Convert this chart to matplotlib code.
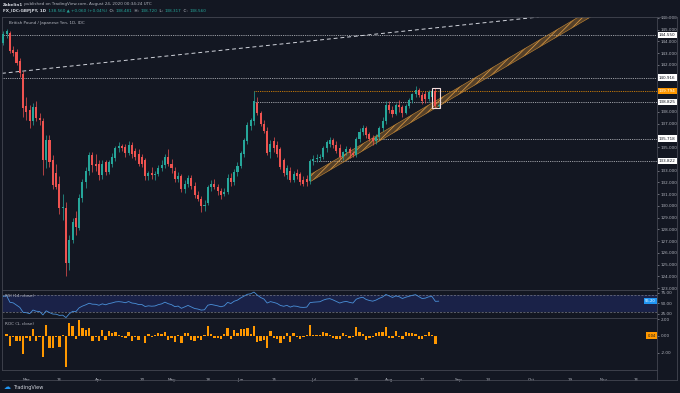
import numpy as np
import pandas as pd
import matplotlib
matplotlib.use("Agg")
import matplotlib.pyplot as plt
from matplotlib.patches import Rectangle
from matplotlib.lines import Line2D
from matplotlib.transforms import blended_transform_factory

# GBP/JPY daily candles, 20 Feb 2020 .. 24 Aug 2020
first_day = "2020-02-20"
opens = [143.9, 144.6, 144.7, 143.3, 143.1, 142.3, 141.2, 138.5, 138.2, 137.2,
         138.4, 137.5, 137.2, 133.9, 135.6, 133.9, 132.8, 131.9, 129.8, 129.8,
         125.1, 127.1, 129.0, 128.1, 130.7, 132.0, 133.0, 134.3, 133.6, 133.6,
         132.6, 133.7, 132.9, 133.6, 134.1, 134.9, 135.1, 135.0, 134.5, 135.2,
         134.7, 134.4, 134.2, 133.9, 132.5, 132.8, 132.6, 132.7, 133.2, 133.5,
         134.2, 133.6, 133.0, 132.3, 132.5, 131.4, 131.9, 132.4, 131.7, 130.9,
         130.6, 130.0, 130.2, 131.6, 131.9, 131.6, 131.3, 131.0, 131.2, 132.4,
         132.0, 132.9, 133.4, 134.4, 135.5, 136.8, 137.2, 138.8, 137.9, 137.0,
         136.4, 134.6, 135.5, 135.2, 134.8, 133.9, 132.6, 133.0, 132.2, 132.8,
         132.7, 132.2, 132.3, 132.1, 133.8, 134.0, 134.1, 134.2, 134.9, 135.3,
         135.6, 135.2, 134.9, 134.2, 134.6, 134.8, 134.5, 134.3, 135.7, 136.3,
         136.6, 136.1, 135.8, 135.5, 135.9, 136.6, 137.2, 138.6, 138.2, 137.8,
         138.6, 138.4, 137.9, 138.5, 139.0, 139.5, 139.9, 139.4, 139.5, 139.1,
         139.3, 139.8, 138.481]
highs = [144.9, 145.1, 144.9, 143.6, 143.4, 142.6, 141.5, 139.3, 138.6, 138.8,
         138.9, 137.9, 137.5, 136.0, 136.0, 134.3, 133.6, 132.5, 131.0, 130.3,
         127.5, 129.0, 129.6, 131.0, 132.3, 133.3, 134.6, 134.6, 134.4, 133.9,
         133.9, 133.9, 133.9, 134.5, 135.1, 135.4, 135.3, 135.3, 135.5, 135.4,
         134.9, 134.8, 134.4, 134.1, 133.0, 133.3, 133.0, 133.5, 133.9, 134.4,
         134.8, 134.0, 133.3, 132.9, 132.7, 132.2, 132.6, 132.6, 132.0, 131.3,
         130.8, 130.5, 131.8, 132.2, 132.3, 131.9, 131.5, 131.5, 132.7, 132.8,
         133.1, 133.7, 134.7, 135.8, 137.1, 137.5, 139.794, 139.3, 138.1, 137.3,
         136.7, 135.6, 135.9, 135.5, 135.0, 134.1, 133.5, 133.3, 133.0, 133.1,
         132.9, 132.5, 132.6, 134.0, 134.3, 134.4, 134.4, 135.1, 135.6, 135.9,
         135.8, 135.5, 135.3, 134.7, 135.1, 135.0, 134.7, 135.9, 136.6, 136.9,
         136.8, 136.3, 136.0, 136.1, 136.8, 137.6, 138.9, 138.9, 138.5, 138.8,
         139.0, 138.6, 138.7, 139.2, 139.6, 140.2, 140.0, 139.7, 139.8, 139.9,
         140.0, 140.0, 138.720]
lows = [143.7, 144.3, 143.0, 142.8, 142.0, 141.0, 137.6, 137.3, 136.6, 136.9,
        137.2, 136.9, 132.6, 133.2, 133.3, 131.4, 131.4, 129.3, 128.8, 124.0,
        124.5, 126.8, 127.5, 127.9, 130.3, 131.5, 132.6, 132.9, 133.0, 132.2,
        132.3, 132.6, 132.7, 133.3, 133.8, 134.6, 134.7, 134.2, 134.3, 134.1,
        133.9, 133.4, 133.3, 132.2, 132.2, 132.3, 132.2, 132.5, 133.0, 133.2,
        133.4, 132.8, 132.0, 132.0, 131.2, 131.1, 131.6, 131.4, 130.7, 130.4,
        129.5, 129.6, 130.1, 131.3, 131.4, 130.9, 130.6, 130.8, 131.0, 131.7,
        131.8, 132.5, 133.2, 134.2, 135.3, 136.5, 136.9, 137.7, 136.8, 136.2,
        134.3, 134.1, 134.6, 134.2, 133.1, 132.5, 132.3, 132.0, 132.0, 132.3,
        131.8, 131.7, 131.7, 131.9, 133.5, 133.7, 133.8, 134.0, 134.6, 135.0,
        134.9, 134.5, 134.0, 133.9, 134.3, 134.1, 134.2, 134.2, 135.4, 136.0,
        135.8, 135.5, 135.2, 135.3, 135.7, 136.4, 137.0, 137.9, 137.6, 137.7,
        138.0, 137.6, 137.8, 138.3, 138.8, 139.3, 139.3, 138.7, 138.8, 138.9,
        139.0, 138.3, 138.317]
closes = [144.6, 144.9, 143.2, 143.0, 142.2, 141.3, 138.3, 138.0, 137.2, 138.4,
          137.5, 137.3, 133.9, 135.6, 133.7, 131.8, 131.6, 129.8, 129.9, 125.1,
          127.1, 128.6, 128.2, 130.7, 132.0, 133.0, 134.3, 133.5, 133.4, 132.6,
          133.6, 132.9, 133.7, 134.2, 134.9, 135.1, 134.9, 134.5, 135.2, 134.4,
          134.2, 133.6, 133.6, 132.5, 132.8, 132.6, 132.7, 133.2, 133.5, 134.2,
          133.6, 133.2, 132.3, 132.5, 131.4, 131.9, 132.4, 131.7, 130.9, 130.6,
          130.0, 130.1, 131.6, 131.9, 131.6, 131.3, 130.9, 131.2, 132.4, 132.0,
          132.9, 133.4, 134.5, 135.6, 136.9, 137.3, 138.9, 137.9, 137.0, 136.4,
          134.5, 135.3, 134.9, 134.4, 133.3, 132.8, 133.2, 132.2, 132.7, 132.5,
          132.0, 131.9, 132.0, 133.8, 134.0, 134.1, 134.2, 134.9, 135.4, 135.6,
          135.2, 134.7, 134.2, 134.6, 134.8, 134.5, 134.3, 135.7, 136.3, 136.6,
          136.0, 135.7, 135.5, 135.9, 136.6, 137.2, 138.6, 138.2, 137.8, 138.6,
          138.4, 137.9, 138.5, 139.0, 139.5, 139.9, 139.4, 138.9, 139.1, 139.7,
          139.8, 138.50, 138.560]

# drawn levels / lines
level_prices = [144.550, 140.916, 139.794, 138.825, 135.718, 133.822]
level_from = [-1, -1, 76, 76, 112, 94]   # bar where each level starts, -1 = left edge
level_orange = [False, False, True, False, False, False]
trend_bars = [0, 150]
trend_prices = [141.3, 145.72]
channel_bars = [93, 131]
channel_low = [132.05, 138.32]
channel_width = 0.6
box_bars = [130.0, 132.3]
box_prices = [138.33, 140.04]

tick_days = ["2020-03-02", "2020-03-16", "2020-04-01", "2020-04-20", "2020-05-01",
             "2020-05-18", "2020-06-01", "2020-06-15", "2020-07-01", "2020-07-20",
             "2020-08-03", "2020-08-17", "2020-09-01", "2020-09-14", "2020-10-01",
             "2020-10-19", "2020-11-02", "2020-11-16"]
tick_names = ["Mar", "16", "Apr", "20", "May", "18", "Jun", "15", "Jul", "20",
              "Aug", "17", "Sep", "14", "Oct", "19", "Nov", "16"]

BG = "#131722"
UP = "#26a69a"
DOWN = "#ef5350"
TXT = "#b2b5be"
LINE = "#434651"
FS = 3.0
plt.rcParams["hatch.linewidth"] = 0.6

o = np.array(opens); h = np.array(highs); l = np.array(lows); c = np.array(closes)
n = len(c)
xs = np.arange(n)
days = pd.bdate_range(first_day, periods=220)

W, H = 680, 393
fig = plt.figure(figsize=(6.8, 3.93), dpi=100, facecolor=BG)


def box(x0, y0, x1, y1):
    return [x0 / W, 1 - y1 / H, (x1 - x0) / W, (y1 - y0) / H]


ax = fig.add_axes(box(2, 17, 657, 290))
ax_rsi = fig.add_axes(box(2, 290, 657, 318), sharex=ax)
ax_roc = fig.add_axes(box(2, 318, 657, 370), sharex=ax)

for a in (ax, ax_rsi, ax_roc):
    a.set_facecolor(BG)
    for s in a.spines.values():
        s.set_color(LINE)
        s.set_linewidth(0.6)
    a.yaxis.tick_right()
    a.tick_params(axis="y", colors=TXT, labelsize=FS, length=1.5, width=0.4, pad=1)
    a.tick_params(axis="x", bottom=False, labelbottom=False)

ax.set_xlim(-0.4, 198.2)
ax.set_ylim(122.83, 146.085)

# candles
col = np.where(c >= o, UP, DOWN)
ax.vlines(xs, l, h, colors=col, lw=0.5, zorder=3)
ax.bar(xs, np.maximum(np.abs(c - o), 0.03), bottom=np.minimum(o, c), width=0.62,
       color=col, linewidth=0, zorder=4)

# horizontal levels
lx0 = ax.get_xlim()[0]
for p, st, orng in zip(level_prices, level_from, level_orange):
    x0 = lx0 if st < 0 else st
    ax.plot([x0, 198.2], [p, p], color="#ff9800" if orng else "#c9cbd1",
            lw=0.6, ls=(0, (1, 1.2)), zorder=2)

# long dashed trendline
ax.axline((trend_bars[0], trend_prices[0]), (trend_bars[1], trend_prices[1]),
          color="#d1d4dc", lw=0.7, ls=(0, (4, 3)), zorder=2)

# rising channel
slope = (channel_low[1] - channel_low[0]) / (channel_bars[1] - channel_bars[0])
cx = np.array([channel_bars[0], 200.0])
clo = channel_low[0] + slope * (cx - channel_bars[0])
ax.fill_between(cx, clo, clo + channel_width, facecolor="#d08e38", alpha=0.35,
                lw=0, zorder=2)
ax.fill_between(cx, clo, clo + channel_width, facecolor="none", edgecolor="#d39340",
                hatch="/////", lw=0, zorder=2)
ax.plot(cx, clo, color="#b98032", lw=0.45, zorder=2)
ax.plot(cx, clo + channel_width, color="#b98032", lw=0.45, zorder=2)

# highlight box
ax.add_patch(Rectangle((box_bars[0], box_prices[0]), box_bars[1] - box_bars[0],
                       box_prices[1] - box_prices[0], fill=False, ec="#f3dede",
                       lw=0.8, zorder=5))

# price scale
ticks = [t for t in range(123, 147) if min(abs(t - p) for p in level_prices) > 0.4]
ax.set_yticks(ticks)
ax.set_yticklabels([f"{t:.3f}" for t in ticks])
tr = blended_transform_factory(ax.transAxes, ax.transData)
for p, orng in zip(level_prices, level_orange):
    ax.text(1.003, p, f"{p:.3f}", transform=tr, fontsize=FS, ha="left", va="center",
            color="white" if orng else "#131722", clip_on=False,
            bbox=dict(boxstyle="square,pad=0.3", fc="#ff9800" if orng else "white", ec="none"))

ax.text(0.01, 1 - 6 / 273, "British Pound / Japanese Yen, 1D, IDC", transform=ax.transAxes,
        fontsize=FS, color=TXT, va="center")


# RSI
def wilder_rsi(close, length, seed_gain=0.3, seed_loss=0.15):
    ag, al = seed_gain, seed_loss
    out = [100 - 100 / (1 + ag / al)]
    for d in np.diff(close):
        ag = (ag * (length - 1) + max(d, 0)) / length
        al = (al * (length - 1) + max(-d, 0)) / length
        out.append(100 - 100 / (1 + ag / al))
    return np.array(out)


rsi = wilder_rsi(c, 14)
ax_rsi.set_ylim(14.9, 82)
ax_rsi.axhspan(30, 70, color="#1a2248", lw=0)
for lv in (70, 30):
    ax_rsi.axhline(lv, color="#787b86", lw=0.5, ls=(0, (3, 2)))
ax_rsi.plot(xs, rsi, color="#4a90d9", lw=0.6)
ax_rsi.set_yticks([75, 50, 25])
ax_rsi.set_yticklabels(["75.00", "50.00", "25.00"])
ax_rsi.text(0.004, 0.78, "RSI (14, close)", transform=ax_rsi.transAxes, fontsize=FS,
            color=TXT, va="center")
ax_rsi.text(0.998, rsi[-1], f"{rsi[-1]:.2f}", transform=blended_transform_factory(
    ax_rsi.transAxes, ax_rsi.transData), ha="right", va="center", fontsize=FS - 0.3,
    color="white", bbox=dict(boxstyle="square,pad=0.3", fc="#2196f3", ec="none"))

# ROC
roc = np.r_[np.nan, np.diff(c) / c[:-1] * 100]
ax_roc.set_ylim(-4.05, 2.14)
ax_roc.bar(xs, roc, width=0.7, color="#ff9800", lw=0)
ax_roc.set_yticks([2, 0, -2])
ax_roc.set_yticklabels(["2.00", "0.00", "-2.00"])
ax_roc.text(0.004, 0.88, "ROC (1, close)", transform=ax_roc.transAxes, fontsize=FS,
            color=TXT, va="center")
ax_roc.text(0.998, roc[-1], f"{roc[-1]:.2f}", transform=blended_transform_factory(
    ax_roc.transAxes, ax_roc.transData), ha="right", va="center", fontsize=FS - 0.3,
    color="#131722", bbox=dict(boxstyle="square,pad=0.3", fc="#ff9800", ec="none"))

# time scale
pos = [days.get_loc(pd.Timestamp(d)) for d in tick_days]
ax_roc.set_xticks(pos)
ax_roc.set_xticklabels(tick_names)
ax_roc.tick_params(axis="x", bottom=False, labelbottom=True, colors=TXT,
                   labelsize=FS, pad=2.5)

# frame lines around scales
for (x0, y0, x1, y1) in [(2, 380, 677, 380), (677, 17, 677, 380), (657, 370, 657, 380),
                         (657, 17, 677, 17)]:
    fig.add_artist(Line2D([x0 / W, x1 / W], [1 - y0 / H, 1 - y1 / H], color=LINE, lw=0.6))

# header
renderer = fig.canvas.get_renderer()


def chain(x, y, parts):
    for s, colr, bold in parts:
        t = fig.text(x, y, s, color=colr, fontsize=FS, va="center", ha="left",
                     fontweight="bold" if bold else "normal")
        x += t.get_window_extent(renderer).width / fig.bbox.width


chain(3 / W, 1 - 4.5 / H, [("Zabelin1", "#d1d4dc", True),
                           (" published on TradingView.com, August 24, 2020 00:34:24 UTC", TXT, False)])
chain(3 / W, 1 - 11 / H, [("FX_IDC:GBPJPY, 1D", "#d1d4dc", True),
                          ("  138.560 \u25b2 +0.060 (+0.04%)", UP, False),
                          ("  O: ", "#d1d4dc", False), ("138.481", UP, False),
                          ("  H: ", "#d1d4dc", False), ("138.720", UP, False),
                          ("  L: ", "#d1d4dc", False), ("138.317", UP, False),
                          ("  C: ", "#d1d4dc", False), ("138.560", UP, False)])

# logo
fig.text(4 / W, 1 - 387 / H, "\u2601", color="#2196f3", fontsize=5, va="center")
fig.text(13 / W, 1 - 387 / H, "TradingView", color="#d1d4dc", fontsize=3.6, va="center")

fig.savefig("out.png", dpi=100, facecolor=BG)
